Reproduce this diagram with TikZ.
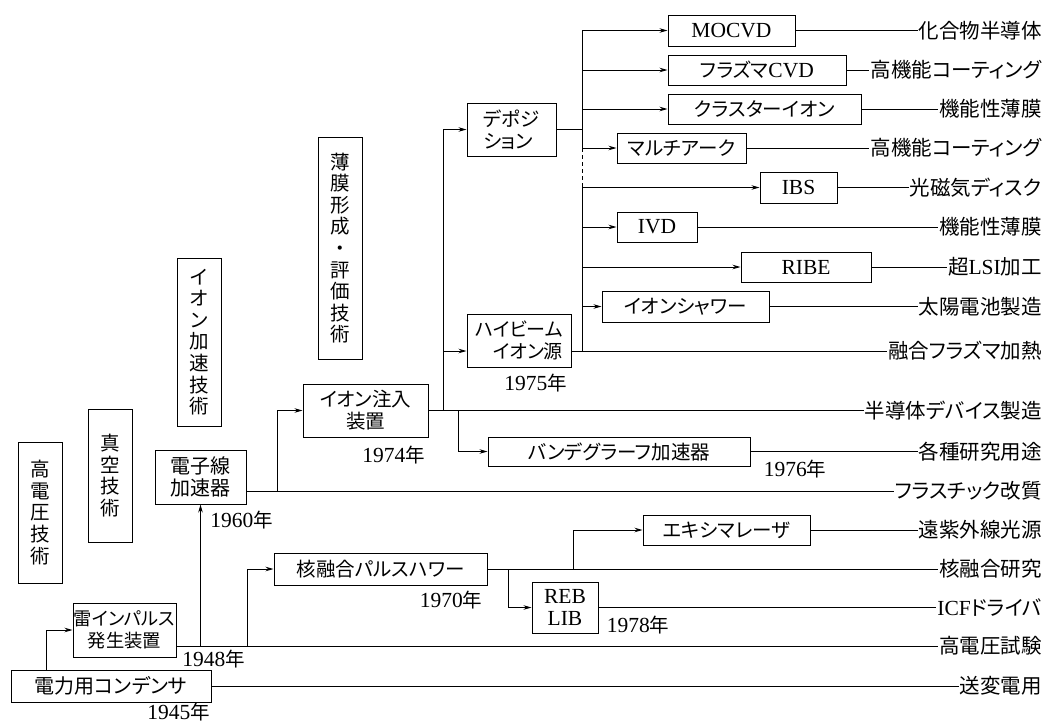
\documentclass[tikz,border=0pt]{standalone}
\usepackage{fontspec}
\setmainfont{Noto Sans CJK JP}[RawFeature=+palt]
\newfontfamily\latfont{Liberation Serif}
\newcommand\latn[1]{{\latfont\fontsize{21.5}{23}\selectfont #1}}
\usetikzlibrary{arrows.meta}
\tikzset{
  every node/.style={font=\fontsize{19.5}{22}\selectfont},
  box/.style={draw, line width=1pt, inner sep=0pt, align=center},
  vbox/.style={draw, line width=1pt, inner sep=0pt, align=center, minimum width=44pt,
    font=\fontsize{19.5}{21.6}\selectfont},
  lab/.style={anchor=east, inner sep=1pt, font=\fontsize{20.5}{22}\selectfont},
  yr/.style={inner sep=0pt},
  conn/.style={line width=0.9pt},
  arr/.style={line width=0.9pt, -{Stealth[length=8pt,width=4.5pt]}},
}
\begin{document}
\begin{tikzpicture}[x=1pt,y=-1pt]
\fill[white] (0,0) rectangle (1047,724);
\useasboundingbox (0,0) rectangle (1047,724);

% vertical category boxes
\node[vbox, minimum height=141pt] (v1) at (40.5,512.5) {高\\電\\圧\\技\\術};
\node[vbox, minimum height=133pt] (v2) at (110,475.5) {真\\空\\技\\術};
\node[vbox, minimum height=168pt] (v3) at (199,342) {イ\\オ\\ン\\加\\速\\技\\術};
\node[vbox, minimum height=222pt] (v4) at (340,248) {薄\\膜\\形\\成\\・\\評\\価\\技\\術};

% boxes
\node[box, minimum width=200pt, minimum height=32pt, font=\fontsize{20}{22}\selectfont] (cap) at (111,686) {電力用コンデンサ};
\node[box, minimum width=103pt, minimum height=54pt, font=\fontsize{18.3}{22}\selectfont] (imp) at (124.5,630) {雷インパルス\\発生装置};
\node[box, minimum width=91pt, minimum height=54pt, font=\fontsize{20}{22}\selectfont] (eb) at (200.5,477) {電子線\\加速器};
\node[box, minimum width=213pt, minimum height=32pt] (kaku) at (380.5,569) {核融合パルスハワー};
\node[box, minimum width=66pt, minimum height=51pt] (reb) at (565,607.5) {\latn{REB}\\\latn{LIB}};
\node[box, minimum width=167pt, minimum height=30pt] (exc) at (726.5,530) {エキシマレーザ};
\node[box, minimum width=125pt, minimum height=53pt] (ionimp) at (365.5,410.5) {イオン注入\\装置};
\node[box, minimum width=262pt, minimum height=29pt] (vdg) at (619,451.5) {バンデグラーフ加速器};
\node[box, minimum width=104pt, minimum height=53pt, align=right, font=\fontsize{19}{22}\selectfont] (hib) at (519,340.5) {ハイビーム\\イオン源};
\node[box, minimum width=89pt, minimum height=53pt, align=left] (depo) at (511.5,129.5) {デポジ\\ション};
\node[box, minimum width=127pt, minimum height=31pt] (mocvd) at (731.5,30.5) {\latn{MOCVD}};
\node[box, minimum width=178pt, minimum height=30pt] (pcvd) at (757,70) {フラズマ\latn{CVD}};
\node[box, minimum width=193pt, minimum height=30pt] (clus) at (764.5,109) {クラスターイオン};
\node[box, minimum width=129pt, minimum height=30pt] (multi) at (681.5,148) {マルチアーク};
\node[box, minimum width=77pt, minimum height=31pt] (ibs) at (798.5,187.5) {\latn{IBS}};
\node[box, minimum width=80pt, minimum height=30pt] (ivd) at (657,227) {\latn{IVD}};
\node[box, minimum width=130pt, minimum height=30pt] (ribe) at (806,267) {\latn{RIBE}};
\node[box, minimum width=167pt, minimum height=31pt] (shower) at (685.5,306.5) {イオンシャワー};

% right-hand labels
\node[lab] (l01) at (1043,30.5) {化合物半導体};
\node[lab] (l02) at (1043,70) {高機能コーティング};
\node[lab] (l03) at (1043,109) {機能性薄膜};
\node[lab] (l04) at (1043,148) {高機能コーティング};
\node[lab] (l05) at (1043,187.5) {光磁気ディスク};
\node[lab] (l06) at (1043,227) {機能性薄膜};
\node[lab] (l07) at (1043,267) {超\latn{LSI}加工};
\node[lab] (l08) at (1043,306.5) {太陽電池製造};
\node[lab] (l09) at (1043,351) {融合フラズマ加熱};
\node[lab] (l10) at (1043,410.5) {半導体デバイス製造};
\node[lab] (l11) at (1043,451.5) {各種研究用途};
\node[lab] (l12) at (1043,491) {フラスチック改質};
\node[lab] (l13) at (1043,530) {遠紫外線光源};
\node[lab] (l14) at (1043,569) {核融合研究};
\node[lab] (l15) at (1043,607.5) {\latn{ICF}ドライバ};
\node[lab] (l16) at (1043,646) {高電圧試験};
\node[lab] (l17) at (1043,686) {送変電用};

% years
\node[yr] (y45) at (178.5,712) {\latn{1945}年};
\node[yr] (y48) at (213.5,659) {\latn{1948}年};
\node[yr] (y60) at (241.5,520) {\latn{1960}年};
\node[yr] (y70) at (451,600) {\latn{1970}年};
\node[yr] (y74) at (393.5,455) {\latn{1974}年};
\node[yr] (y75) at (535.5,383) {\latn{1975}年};
\node[yr] (y76) at (795,469) {\latn{1976}年};
\node[yr] (y78) at (638,625) {\latn{1978}年};

% junction coordinates
\coordinate (impo) at ([yshift=-16pt]imp.east);
\coordinate (ebo) at ([yshift=-14pt]eb.east);
\coordinate (hibo) at ([yshift=-10.5pt]hib.east);
\coordinate (hibi) at ([yshift=-10.5pt]hib.west);
\coordinate (jk) at (247,0);
\coordinate (ji) at (277,0);
\coordinate (jd) at (443,0);
\coordinate (jv) at (458,0);
\coordinate (jr) at (508,0);
\coordinate (jx) at (573,0);
\coordinate (tk) at (582,0);

% bottom: capacitor and impulse
\draw[conn] (cap.east) -- (l17.west);
\draw[arr] ([xshift=36pt]cap.north west) |- (imp.west);
\draw[conn] (impo) -- (l16.west);
\draw[arr] (impo -| eb.south) -- (eb.south);
\draw[arr] (impo -| jk) |- (kaku.west);

% fusion pulse power
\draw[conn] (kaku.east) -- (l14.west);
\draw[arr] (kaku.east -| jx) |- (exc.west);
\draw[conn] (exc.east) -- (l13.west);
\draw[arr] (kaku.east -| jr) |- (reb.west);
\draw[conn] (reb.east) -- (l15.west);

% electron beam accelerator
\draw[conn] (ebo) -- (l12.west);
\draw[arr] (ebo -| ji) |- (ionimp.west);

% ion implantation
\draw[conn] (ionimp.east) -- (l10.west);
\draw[arr] (ionimp.east -| jv) |- (vdg.west);
\draw[conn] (vdg.east) -- (l11.west);
\draw[arr] (ionimp.east -| jd) |- (depo.west);
\draw[arr] (ionimp.east -| jd) |- (hibi);

% high beam ion source
\draw[conn] (hibo) -- (l09.west);

% deposition trunk
\draw[conn] (depo.east) -- (depo.east -| tk);
\draw[conn] (tk |- mocvd.west) -- (tk |- multi.west);
\draw[conn, dash pattern=on 4pt off 3pt] (tk |- multi.west) -- (tk |- ibs.west);
\draw[conn] (tk |- ibs.west) -- (tk |- hibo);

\draw[arr] (tk |- mocvd.west) -- (mocvd.west);
\draw[arr] (tk |- pcvd.west) -- (pcvd.west);
\draw[arr] (tk |- clus.west) -- (clus.west);
\draw[arr] (tk |- multi.west) -- (multi.west);
\draw[arr] (tk |- ibs.west) -- (ibs.west);
\draw[arr] (tk |- ivd.west) -- (ivd.west);
\draw[arr] (tk |- ribe.west) -- (ribe.west);
\draw[arr] (tk |- shower.west) -- (shower.west);

\draw[conn] (mocvd.east) -- (l01.west);
\draw[conn] (pcvd.east) -- (l02.west);
\draw[conn] (clus.east) -- (l03.west);
\draw[conn] (multi.east) -- (l04.west);
\draw[conn] (ibs.east) -- (l05.west);
\draw[conn] (ivd.east) -- (l06.west);
\draw[conn] (ribe.east) -- (l07.west);
\draw[conn] (shower.east) -- (l08.west);
\end{tikzpicture}
\end{document}
